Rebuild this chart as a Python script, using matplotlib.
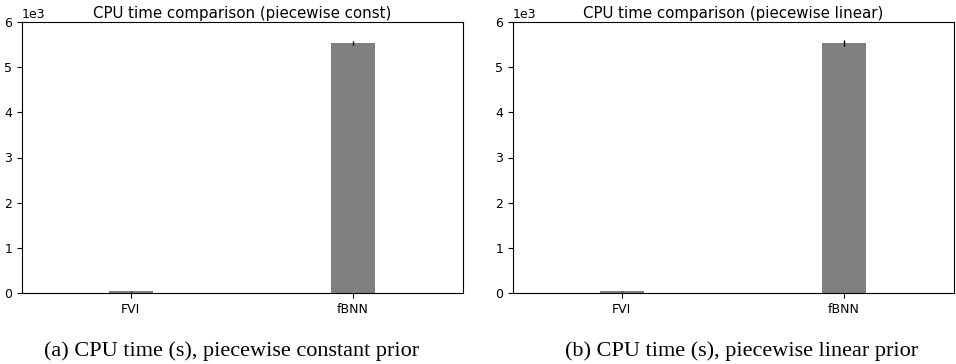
import matplotlib.pyplot as plt

methods = ['FVI', 'fBNN']
const_mean = [40, 5535]
const_err = [10, 50]
linear_mean = [40, 5530]
linear_err = [10, 70]

titles = ['CPU time comparison (piecewise const)', 'CPU time comparison (piecewise linear)']
captions = ['(a) CPU time (s), piecewise constant prior', '(b) CPU time (s), piecewise linear prior']

fig = plt.figure(figsize=(9.56, 3.64), dpi=100)
ax1 = fig.add_axes([22 / 956, 1 - 293 / 364, 441 / 956, 271 / 364])
ax2 = fig.add_axes([513 / 956, 1 - 293 / 364, 441 / 956, 271 / 364])

for ax, mean, err, title in zip([ax1, ax2], [const_mean, linear_mean],
                                [const_err, linear_err], titles):
    ax.bar(range(len(methods)), mean, yerr=err, width=0.2, color='grey',
           ecolor='black', error_kw={'elinewidth': 1})
    ax.set_xticks(range(len(methods)))
    ax.set_xticklabels(methods)
    ax.set_xlim(-0.49, 1.495)
    ax.set_ylim(0, 6000)
    ax.ticklabel_format(axis='y', style='sci', scilimits=(0, 0))
    ax.tick_params(labelsize=9)
    ax.yaxis.get_offset_text().set_fontsize(9)
    ax.set_title(title, fontsize=10.8, pad=3)

fig.text(232 / 956, 8 / 364, captions[0], family='Liberation Serif', fontsize=16,
         ha='center', va='baseline')
fig.text(742 / 956, 8 / 364, captions[1], family='Liberation Serif', fontsize=16,
         ha='center', va='baseline')

plt.savefig('out.png', dpi=100)
